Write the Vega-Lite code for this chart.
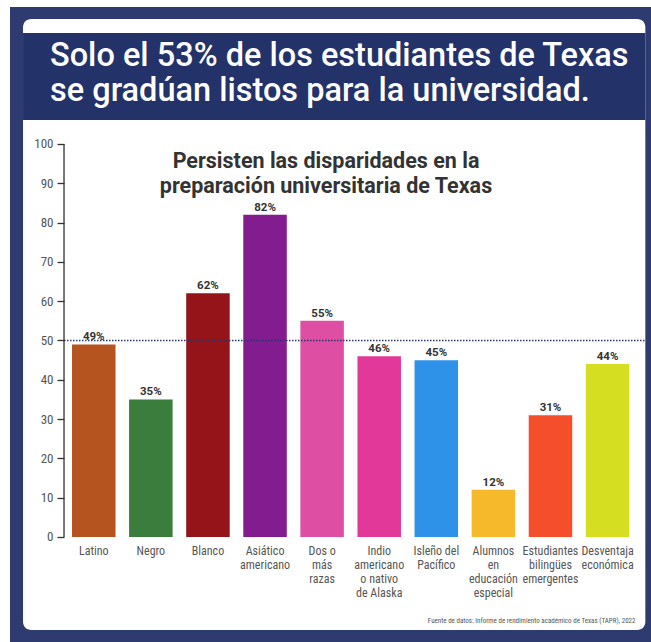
{
  "$schema": "https://vega.github.io/schema/vega-lite/v6.json",
  "width": 641,
  "height": 635,
  "autosize": {"type": "none"},
  "padding": {"left": 10, "top": 7, "right": 0, "bottom": 0},
  "background": "white",
  "title": {
    "text": ["Solo el 53% de los estudiantes de Texas", "se gradúan listos para la universidad."],
    "anchor": "start",
    "frame": "group",
    "orient": "top",
    "offset": -39,
    "dx": 40,
    "dy": 61,
    "baseline": "top",
    "align": "left",
    "color": "white",
    "font": "Roboto",
    "fontSize": 32.5,
    "fontWeight": 500,
    "lineHeight": 35
  },
  "config": {
    "view": {"fill": "#2E3B70", "stroke": null},
    "font": "Roboto"
  },
  "datasets": {
    "preparacion": [
      {"grupo": "Latino", "valor": 49},
      {"grupo": "Negro", "valor": 35},
      {"grupo": "Blanco", "valor": 62},
      {"grupo": "Asiático\namericano", "valor": 82},
      {"grupo": "Dos o\nmás\nrazas", "valor": 55},
      {"grupo": "Indio\namericano\no nativo\nde Alaska", "valor": 46},
      {"grupo": "Isleño del\nPacífico", "valor": 45},
      {"grupo": "Alumnos\nen\neducación\nespecial", "valor": 12},
      {"grupo": "Estudiantes\nbilingües\nemergentes", "valor": 31},
      {"grupo": "Desventaja\neconómica", "valor": 44}
    ],
    "uno": [{"titulo": "Persisten las disparidades en la preparación universitaria de Texas"}]
  },
  "layer": [
    {
      "data": {"name": "uno"},
      "mark": {"type": "rect", "color": "white", "cornerRadius": 8},
      "encoding": {
        "x": {"datum": "Latino", "type": "nominal", "bandPosition": -1.126},
        "x2": {"datum": "Desventaja\neconómica", "bandPosition": 1.368},
        "y": {"datum": 131.81, "type": "quantitative"},
        "y2": {"datum": -23.66}
      }
    },
    {
      "data": {"name": "uno"},
      "mark": {"type": "rect", "color": "#233269"},
      "encoding": {
        "x": {"datum": "Latino", "type": "nominal", "bandPosition": -1.126},
        "x2": {"datum": "Desventaja\neconómica", "bandPosition": 1.368},
        "y": {"datum": 128.24, "type": "quantitative"},
        "y2": {"datum": 106.11}
      }
    },
    {
      "data": {"name": "preparacion"},
      "mark": {"type": "bar"},
      "encoding": {
        "x": {
          "field": "grupo",
          "type": "nominal",
          "sort": null,
          "scale": {
            "type": "band",
            "domain": ["Latino", "Negro", "Blanco", "Asiático\namericano", "Dos o\nmás\nrazas", "Indio\namericano\no nativo\nde Alaska", "Isleño del\nPacífico", "Alumnos\nen\neducación\nespecial", "Estudiantes\nbilingües\nemergentes", "Desventaja\neconómica"],
            "paddingInner": 0.238,
            "paddingOuter": 0.733,
            "align": 0.741
          },
          "axis": {
            "orient": "bottom",
            "zindex": 2,
            "offset": -105,
            "domain": false,
            "ticks": false,
            "labelAngle": 0,
            "labelAlign": "center",
            "labelPadding": 8,
            "labelExpr": "split(datum.value, '\\n')",
            "labelLineHeight": 14,
            "labelFont": "Liberation Sans Narrow, Roboto Condensed, Roboto",
            "labelFontSize": 12,
            "labelColor": "#555555",
            "labelBaseline": "top",
            "title": "Fuente de datos: Informe de rendimiento académico de Texas (TAPR), 2022",
            "titleFont": "Liberation Sans Narrow, Roboto Condensed, Roboto",
            "titleFontSize": 7,
            "titleFontWeight": "normal",
            "titleColor": "#555555",
            "titleAnchor": "end",
            "titleAlign": "right",
            "titleBaseline": "alphabetic",
            "titleX": 625,
            "titleY": 85
          }
        },
        "y": {
          "field": "valor",
          "type": "quantitative",
          "scale": {"domain": [-26.72, 134.86], "nice": false, "zero": false},
          "axis": {
            "zindex": 2,
            "offset": -54,
            "values": [0, 10, 20, 30, 40, 50, 60, 70, 80, 90, 100],
            "domain": false,
            "grid": false,
            "ticks": true,
            "labels": true,
            "tickSize": 7,
            "tickColor": "#333333",
            "tickWidth": 1.3,
            "labelFont": "Liberation Sans Narrow, Roboto Condensed, Roboto",
            "labelFontSize": 13,
            "labelColor": "#555555",
            "labelPadding": 4,
            "title": null
          }
        },
        "y2": {"datum": 0},
        "color": {
          "field": "grupo",
          "type": "nominal",
          "legend": null,
          "scale": {
            "domain": ["Latino", "Negro", "Blanco", "Asiático\namericano", "Dos o\nmás\nrazas", "Indio\namericano\no nativo\nde Alaska", "Isleño del\nPacífico", "Alumnos\nen\neducación\nespecial", "Estudiantes\nbilingües\nemergentes", "Desventaja\neconómica"],
            "range": ["#B5541F", "#3A7D3D", "#941419", "#831C8E", "#DE4FA3", "#E2389A", "#2E93E8", "#F6B92B", "#F44E2B", "#D6DE22"]
          }
        }
      }
    },
    {
      "data": {"name": "preparacion"},
      "mark": {"type": "text", "baseline": "bottom", "dy": -2, "fontWeight": "bold", "fontSize": 11.5, "color": "#333333"},
      "encoding": {
        "x": {"field": "grupo", "type": "nominal", "sort": null},
        "y": {"field": "valor", "type": "quantitative"},
        "text": {"value": {"expr": "datum.valor + '%'"}}
      }
    },
    {
      "data": {"name": "uno"},
      "mark": {"type": "rule", "color": "#2A3670", "strokeWidth": 1.5, "strokeDash": [1.5, 1.5]},
      "encoding": {
        "x": {"datum": "Latino", "type": "nominal", "bandPosition": -0.184},
        "x2": {"datum": "Desventaja\neconómica", "bandPosition": 1.368},
        "y": {"datum": 50, "type": "quantitative"}
      }
    },
    {
      "data": {"name": "uno"},
      "mark": {"type": "rule", "color": "#333333", "strokeWidth": 1.3},
      "encoding": {
        "x": {"datum": "Latino", "type": "nominal", "bandPosition": -0.184},
        "y": {"datum": 0, "type": "quantitative"},
        "y2": {"datum": 100}
      }
    },
    {
      "data": {"name": "uno"},
      "mark": {"type": "text", "baseline": "top", "align": "center", "dx": -4.5, "fontWeight": "bold", "fontSize": 21.5, "color": "#333333", "lineHeight": 24.5},
      "encoding": {
        "y": {"datum": 98.1, "type": "quantitative"},
        "text": {"value": ["Persisten las disparidades en la", "preparación universitaria de Texas"]}
      }
    }
  ]
}
